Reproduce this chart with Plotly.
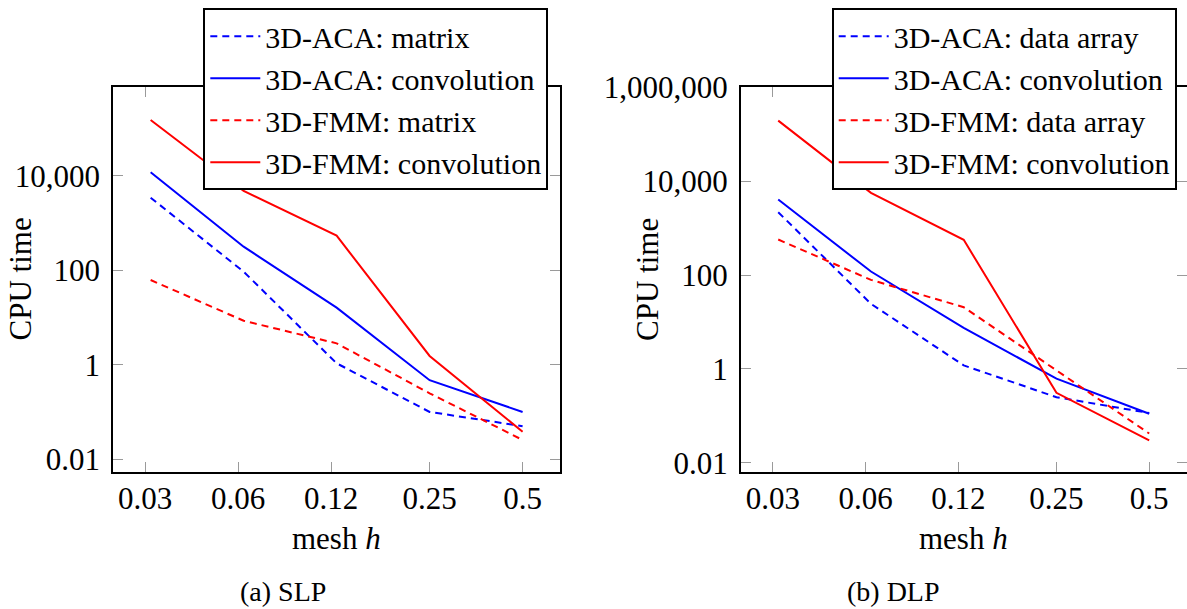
import plotly.graph_objects as go

W, H = 1187, 609

# mesh sizes h (data) and tick labels
h_values = [1/32, 1/16, 1/8, 1/4, 1/2]
x_tickvals = [0.03, 0.06, 0.12, 0.25, 0.5]
x_ticktext = ["0.03", "0.06", "0.12", "0.25", "0.5"]

# (a) SLP
slp_aca_matrix = [3420, 93, 1.07, 0.10, 0.050]
slp_aca_conv = [11800, 314, 16.1, 0.47, 0.10]
slp_fmm_matrix = [62, 8.5, 2.83, 0.248, 0.0255]
slp_fmm_conv = [151000, 4740, 537, 1.53, 0.038]

# (b) DLP
dlp_aca_data = [2190, 24.4, 1.19, 0.25, 0.115]
dlp_aca_conv = [4070, 119, 7.5, 0.62, 0.111]
dlp_fmm_data = [573, 79, 20.7, 0.93, 0.042]
dlp_fmm_conv = [196000, 5660, 565, 0.31, 0.030]

y_tickvals_a = [0.01, 1, 100, 10000]
y_ticktext_a = ["0.01", "1", "100", "10,000"]
y_tickvals_b = [0.01, 1, 100, 10000, 1000000]
y_ticktext_b = ["0.01", "1", "100", "10,000", "1,000,000"]

FONT = "Liberation Serif"
BLUE = "#0000ff"
RED = "#ff0000"
DASH = "7px,5px"

fig = go.Figure()

def add(y, name, color, dash, xa, ya, legend):
    fig.add_trace(go.Scatter(
        x=h_values, y=y, name=name, mode="lines",
        line=dict(color=color, width=2, dash=dash),
        xaxis=xa, yaxis=ya, legend=legend))

add(slp_aca_matrix, "3D-ACA: matrix", BLUE, DASH, "x", "y", "legend")
add(slp_aca_conv, "3D-ACA: convolution", BLUE, "solid", "x", "y", "legend")
add(slp_fmm_matrix, "3D-FMM: matrix", RED, DASH, "x", "y", "legend")
add(slp_fmm_conv, "3D-FMM: convolution", RED, "solid", "x", "y", "legend")

add(dlp_aca_data, "3D-ACA: data array", BLUE, DASH, "x2", "y2", "legend2")
add(dlp_aca_conv, "3D-ACA: convolution", BLUE, "solid", "x2", "y2", "legend2")
add(dlp_fmm_data, "3D-FMM: data array", RED, DASH, "x2", "y2", "legend2")
add(dlp_fmm_conv, "3D-FMM: convolution", RED, "solid", "x2", "y2", "legend2")

def px(x):
    return x / W

def py(y):
    return 1 - y / H

common_axis = dict(
    showgrid=False, zeroline=False, showline=True, linecolor="black",
    linewidth=2, mirror="ticks", ticks="inside", ticklen=10,
    tickcolor="#9a9a9a", tickwidth=1, automargin=False,
    tickfont=dict(family=FONT, size=31, color="black"),
)

frame_top, frame_bottom = 87.3, 471.7
ydom = [py(frame_bottom), py(frame_top)]

legend_common = dict(
    xanchor="left", yanchor="top", bgcolor="white", bordercolor="black",
    borderwidth=2, font=dict(family=FONT, size=30, color="black"),
    tracegroupgap=0, itemwidth=50, entrywidth=330,
)

fig.update_layout(
    width=W, height=H,
    margin=dict(l=0, r=0, t=0, b=0, autoexpand=False),
    paper_bgcolor="white", plot_bgcolor="white",
    font=dict(family=FONT, color="black"),
    xaxis=dict(type="log", domain=[px(113.3), px(560)], range=[-1.626, -0.180],
               tickvals=x_tickvals, ticktext=x_ticktext, anchor="y",
               ticklabelstandoff=-2, **common_axis),
    yaxis=dict(type="log", domain=ydom, range=[-2.265, 5.87],
               tickvals=y_tickvals_a, ticktext=y_ticktext_a, anchor="x",
               ticklabelstandoff=5, **common_axis),
    xaxis2=dict(type="log", domain=[px(741), px(1186.5)], range=[-1.626, -0.180],
                tickvals=x_tickvals, ticktext=x_ticktext, anchor="y2",
                ticklabelstandoff=-2, **common_axis),
    yaxis2=dict(type="log", domain=ydom, range=[-2.19, 6.002],
                tickvals=y_tickvals_b, ticktext=y_ticktext_b, anchor="x2",
                ticklabelstandoff=5, **common_axis),
    legend=dict(x=px(203.3), y=py(8.3), **legend_common),
    legend2=dict(x=px(831.7), y=py(8.3), **legend_common),
    showlegend=True,
)

annots = [
    ("CPU time", 20, 279.5, -90, 31),
    ("CPU time", 647.5, 279.5, -90, 31),
    ("mesh <i>h</i>", 336.7, 538, 0, 31),
    ("mesh <i>h</i>", 963.8, 538, 0, 31),
    ("(a) SLP", 283, 591.7, 0, 28),
    ("(b) DLP", 893, 591.7, 0, 28),
]
for text, x, y, ang, size in annots:
    fig.add_annotation(text=text, x=px(x), y=py(y), xref="paper", yref="paper",
                       xanchor="center", yanchor="middle", showarrow=False,
                       textangle=ang, font=dict(family=FONT, size=size, color="black"))

fig.write_html("out.html")
